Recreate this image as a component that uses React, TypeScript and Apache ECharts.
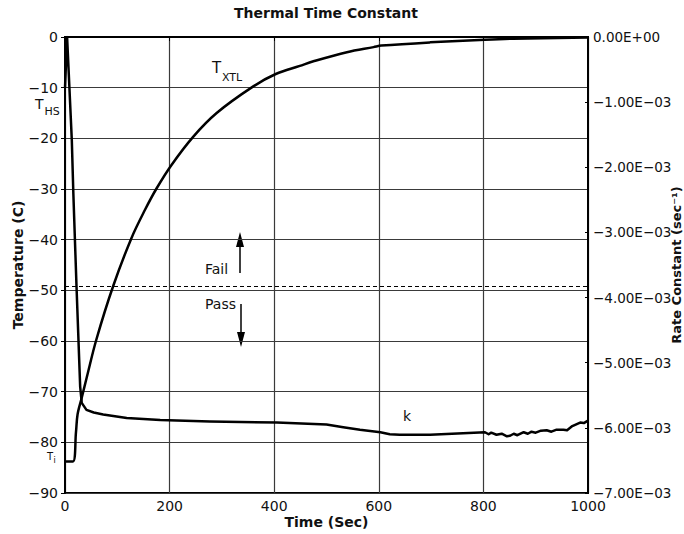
import React, { useEffect, useRef } from "react";
import * as echarts from "echarts";

// T_XTL (crystal temperature, °C) vs time (s)
const txtlTime = [0, 15, 21, 24, 32, 42, 60, 92, 127, 153, 175, 204, 245, 290, 360, 403, 449, 475, 539, 590, 605, 698, 803, 857, 1000];
const txtlTemp = [-83.8, -83.8, -78, -74.5, -71.2, -67, -59.7, -49.2, -39.7, -34.1, -29.9, -25.2, -19.7, -15.0, -9.75, -7.3, -5.7, -4.8, -3.0, -2.0, -1.7, -1.06, -0.53, -0.33, -0.1];

// k (rate constant, 1/s) vs time (s)
const kTime = [0, 4, 13, 16, 22, 29, 32, 41, 55, 73, 118, 182, 277, 405, 500, 532, 564, 603, 621, 640, 698, 761, 803, 810, 815, 825, 835, 845, 851, 858, 865, 877, 885, 892, 900, 910, 921, 930, 940, 953, 960, 970, 985, 992, 1000];
const kValue = [-0.778e-3, 0, -1.579e-3, -2.411e-3, -3.827e-3, -5.367e-3, -5.616e-3, -5.724e-3, -5.765e-3, -5.794e-3, -5.849e-3, -5.88e-3, -5.903e-3, -5.919e-3, -5.95e-3, -5.989e-3, -6.028e-3, -6.067e-3, -6.098e-3, -6.106e-3, -6.106e-3, -6.082e-3, -6.067e-3, -6.098e-3, -6.074e-3, -6.106e-3, -6.09e-3, -6.129e-3, -6.121e-3, -6.09e-3, -6.113e-3, -6.067e-3, -6.09e-3, -6.059e-3, -6.074e-3, -6.043e-3, -6.036e-3, -6.059e-3, -6.028e-3, -6.028e-3, -6.036e-3, -5.973e-3, -5.919e-3, -5.927e-3, -5.888e-3];

// Pass/Fail threshold (°C)
const passFailLimit = -49.2;

const xTicks = { min: 0, max: 1000, interval: 200 };
const tempTicks = { min: -90, max: 0, interval: 10 };
const kTicks = { min: -0.007, max: 0, interval: 0.001 };

const FONT = "DejaVu Sans";

function fmtTemp(v: number) {
  const r = Math.round(v);
  return r < 0 ? "\u2212" + Math.abs(r) : String(r);
}
function fmtK(v: number) {
  if (Math.abs(v) < 1e-12) return "0.00E+00";
  return "\u2212" + Math.abs(v * 1000).toFixed(2) + "E\u221203";
}

export default function App() {
  const ref = useRef<HTMLDivElement>(null);
  useEffect(() => {
    if (!ref.current) return;
    const chart = echarts.init(ref.current, undefined, { renderer: "svg" });
    const txt = (text: string, x: number, y: number, size: number, extra: any = {}) => ({
      type: "text",
      x,
      y,
      style: { text, fontSize: size, fontFamily: FONT, fill: "#111", align: "left", verticalAlign: "middle", ...extra },
    });
    chart.setOption({
      animation: false,
      backgroundColor: "#fff",
      title: {
        text: "Thermal Time Constant",
        left: 326,
        top: 6,
        padding: 0,
        textAlign: "center",
        textStyle: { fontFamily: FONT, fontSize: 14, fontWeight: "bold", color: "#111" },
      },
      grid: {
        left: 65,
        right: 96,
        top: 37,
        bottom: 41,
        containLabel: false,
        outerBoundsMode: "none",
        show: true,
        borderColor: "#000",
        borderWidth: 2,
        backgroundColor: "transparent",
      },
      xAxis: {
        type: "value",
        ...xTicks,
        name: "Time (Sec)",
        nameLocation: "middle",
        nameGap: 22,
        nameMoveOverlap: false,
        nameTextStyle: { fontFamily: FONT, fontSize: 14, fontWeight: "bold", color: "#111" },
        axisLine: { show: true, lineStyle: { color: "#000", width: 2 } },
        axisTick: { show: true, length: 4, lineStyle: { color: "#000" } },
        axisLabel: { fontFamily: FONT, fontSize: 14, color: "#111", margin: 6, formatter: (v: number) => String(Math.round(v)) },
        splitLine: { show: true, lineStyle: { color: "#3a3a3a", width: 1.2 } },
      },
      yAxis: [
        {
          type: "value",
          ...tempTicks,
          position: "left",
          name: "Temperature (C)",
          nameLocation: "middle",
          nameRotate: 90,
          nameGap: 40,
          nameMoveOverlap: false,
          nameTextStyle: { fontFamily: FONT, fontSize: 14, fontWeight: "bold", color: "#111" },
          axisLine: { show: true, lineStyle: { color: "#000", width: 2 } },
          axisTick: { show: true, length: 4, lineStyle: { color: "#000" } },
          axisLabel: { fontFamily: FONT, fontSize: 14, color: "#111", margin: 7, formatter: fmtTemp },
          splitLine: { show: true, lineStyle: { color: "#3a3a3a", width: 1.2 } },
        },
        {
          type: "value",
          ...kTicks,
          position: "right",
          name: "Rate Constant (sec\u207B\u00B9)",
          nameLocation: "middle",
          nameRotate: 90,
          nameGap: 82,
          nameMoveOverlap: false,
          nameTextStyle: { fontFamily: FONT, fontSize: 13, fontWeight: "bold", color: "#111" },
          axisLine: { show: true, lineStyle: { color: "#000", width: 2 } },
          axisTick: { show: true, inside: true, length: 3, lineStyle: { color: "#000" } },
          axisLabel: { fontFamily: FONT, fontSize: 13.5, color: "#111", margin: 5, formatter: fmtK },
          splitLine: { show: false },
        },
      ],
      series: [
        {
          name: "TXTL",
          type: "line",
          yAxisIndex: 0,
          showSymbol: false,
          smooth: 0.35,
          lineStyle: { color: "#000", width: 2.5 },
          data: txtlTime.map((t, i) => [t, txtlTemp[i]]),
          markLine: {
            silent: true,
            symbol: ["none", "none"],
            label: { show: false },
            lineStyle: { color: "#000", width: 1, type: [4, 3] },
            data: [{ yAxis: passFailLimit }],
          },
          z: 3,
        },
        {
          name: "k",
          type: "line",
          yAxisIndex: 1,
          showSymbol: false,
          smooth: false,
          lineStyle: { color: "#000", width: 2.5, join: "round" },
          data: kTime.map((t, i) => [t, kValue[i]]),
          z: 3,
        },
      ],
      graphic: [
        txt("T", 212, 68, 15),
        txt("XTL", 222, 77, 11),
        txt("T", 35, 104, 14),
        txt("HS", 44.5, 111, 11),
        txt("T", 47, 456, 10),
        txt("i", 53.5, 460, 8),
        txt("k", 403, 416, 14),
        txt("Fail", 205, 269, 14),
        txt("Pass", 205, 304, 14),
        { type: "line", shape: { x1: 240, y1: 273, x2: 240, y2: 242 }, style: { stroke: "#000", lineWidth: 1.5 } },
        { type: "polygon", shape: { points: [[236, 247], [244, 247], [240, 232]] }, style: { fill: "#000" } },
        { type: "line", shape: { x1: 241, y1: 304, x2: 241, y2: 336 }, style: { stroke: "#000", lineWidth: 1.5 } },
        { type: "polygon", shape: { points: [[237, 332], [245, 332], [241, 347]] }, style: { fill: "#000" } },
      ],
    });
    return () => chart.dispose();
  }, []);
  return <div ref={ref} style={{ position: "fixed", left: 0, top: 0, width: 684, height: 534 }} />;
}
